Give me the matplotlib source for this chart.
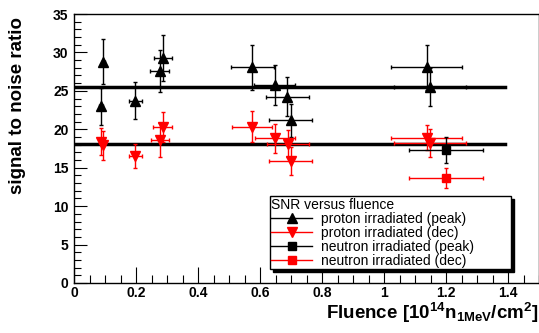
import matplotlib
matplotlib.use("Agg")
import matplotlib.pyplot as plt
from matplotlib.lines import Line2D
from matplotlib.ticker import MultipleLocator

plt.rcParams["font.family"] = ["Liberation Sans", "DejaVu Sans"]
plt.rcParams["mathtext.fontset"] = "custom"
plt.rcParams["mathtext.rm"] = "Liberation Sans:bold"
plt.rcParams["mathtext.bf"] = "Liberation Sans:bold"
plt.rcParams["mathtext.it"] = "Liberation Sans:bold"

# proton irradiated, peak mode
pp_x = [0.095, 0.087, 0.198, 0.276, 0.287, 0.575, 0.648, 0.688, 0.699, 1.138, 1.148]
pp_y = [28.8, 23.0, 23.7, 27.6, 29.3, 28.05, 25.8, 24.25, 21.2, 28.05, 25.5]
pp_xerr = [0.005, 0.005, 0.02, 0.03, 0.03, 0.07, 0.066, 0.069, 0.07, 0.114, 0.115]
pp_yerr = [2.9, 2.4, 2.4, 2.75, 3.0, 2.9, 2.6, 2.5, 2.15, 2.9, 2.5]

# proton irradiated, deconvolution mode
pd_x = [0.086, 0.093, 0.198, 0.277, 0.286, 0.575, 0.648, 0.69, 0.699, 1.138, 1.148]
pd_y = [18.4, 17.9, 16.5, 18.6, 20.25, 20.35, 18.85, 18.15, 15.85, 18.9, 18.2]
pd_xerr = [0.005, 0.005, 0.02, 0.03, 0.03, 0.065, 0.065, 0.068, 0.07, 0.114, 0.115]
pd_yerr = [1.8, 1.9, 1.6, 2.2, 1.95, 2.0, 1.9, 1.7, 1.8, 1.65, 1.85]

# neutron irradiated
np_x, np_y, np_xerr, np_yerr = [1.2], [17.3], [0.12], [1.75]
nd_x, nd_y, nd_xerr, nd_yerr = [1.2], [13.65], [0.12], [1.35]

# constant fits
fit_range = [0.005, 1.39]
fit_peak = 25.45
fit_dec = 18.05

series_labels = ["proton irradiated (peak)", "proton irradiated (dec)",
                 "neutron irradiated (peak)", "neutron irradiated (dec)"]

fig = plt.figure(figsize=(5.39, 3.33), dpi=100)
ax = fig.add_axes([74 / 539, 50 / 333, 465 / 539, 269 / 333])

ax.plot(fit_range, [fit_peak, fit_peak], color="black", lw=2.5, zorder=2)
ax.plot(fit_range, [fit_dec, fit_dec], color="black", lw=2.5, zorder=2)

eb = dict(linestyle="none", elinewidth=1.0, capsize=1.5, capthick=1.0, zorder=3)
ax.errorbar(pp_x, pp_y, xerr=pp_xerr, yerr=pp_yerr, fmt="^", color="black", ms=6.5, **eb)
ax.errorbar(pd_x, pd_y, xerr=pd_xerr, yerr=pd_yerr, fmt="v", color="red", ms=6.5, **eb)
ax.errorbar(np_x, np_y, xerr=np_xerr, yerr=np_yerr, fmt="s", color="black", ms=6, **eb)
ax.errorbar(nd_x, nd_y, xerr=nd_xerr, yerr=nd_yerr, fmt="s", color="red", ms=6, **eb)

ax.set_xlim(0, 1.5)
ax.set_ylim(0, 35)
ax.xaxis.set_minor_locator(MultipleLocator(0.05))
ax.yaxis.set_major_locator(MultipleLocator(5))
ax.yaxis.set_minor_locator(MultipleLocator(1))
ax.set_xticks([0, 0.2, 0.4, 0.6, 0.8, 1.0, 1.2, 1.4])
ax.set_xticklabels(["0", "0.2", "0.4", "0.6", "0.8", "1", "1.2", "1.4"])
ax.tick_params(axis="both", which="both", direction="in", width=0.8,
               top=False, right=False, labelsize=10)
ax.tick_params(axis="y", which="major", length=9.5, pad=4)
ax.tick_params(axis="y", which="minor", length=5)
ax.tick_params(axis="x", which="major", length=11.5, pad=2)
ax.tick_params(axis="x", which="minor", length=6)
for lab in ax.get_xticklabels() + ax.get_yticklabels():
    lab.set_fontweight("bold")
for sp in ax.spines.values():
    sp.set_linewidth(1.0)

handles = [
    Line2D([], [], color="black", marker="^", ms=6.5, lw=1),
    Line2D([], [], color="red", marker="v", ms=6.5, lw=1),
    Line2D([], [], color="black", marker="s", ms=6, lw=1),
    Line2D([], [], color="red", marker="s", ms=6, lw=1),
]
leg = ax.legend(handles, series_labels, loc="lower left",
                bbox_to_anchor=(0.4215, 0.052, 0.5185, 0.261), mode="expand",
                borderaxespad=0, fancybox=False, framealpha=1,
                edgecolor="black", fontsize=10, title="SNR versus fluence",
                title_fontsize=10, alignment="left", handlelength=2.9,
                handletextpad=0.7, labelspacing=0.0, borderpad=0.1,
                shadow={"color": "black", "alpha": 1})
leg.get_frame().set_linewidth(1.0)

fig.text(18 / 539, 1 - 17 / 333, "signal to noise ratio", rotation=90,
         ha="center", va="top", fontsize=13.5, fontweight="bold")
fig.text(0.998, 1 - 319 / 333,
         r"Fluence [$\mathbf{10^{14}n_{1MeV}/cm^{2}}$]",
         ha="right", va="baseline", fontsize=13.5, fontweight="bold")

fig.savefig("out.png", dpi=100)
